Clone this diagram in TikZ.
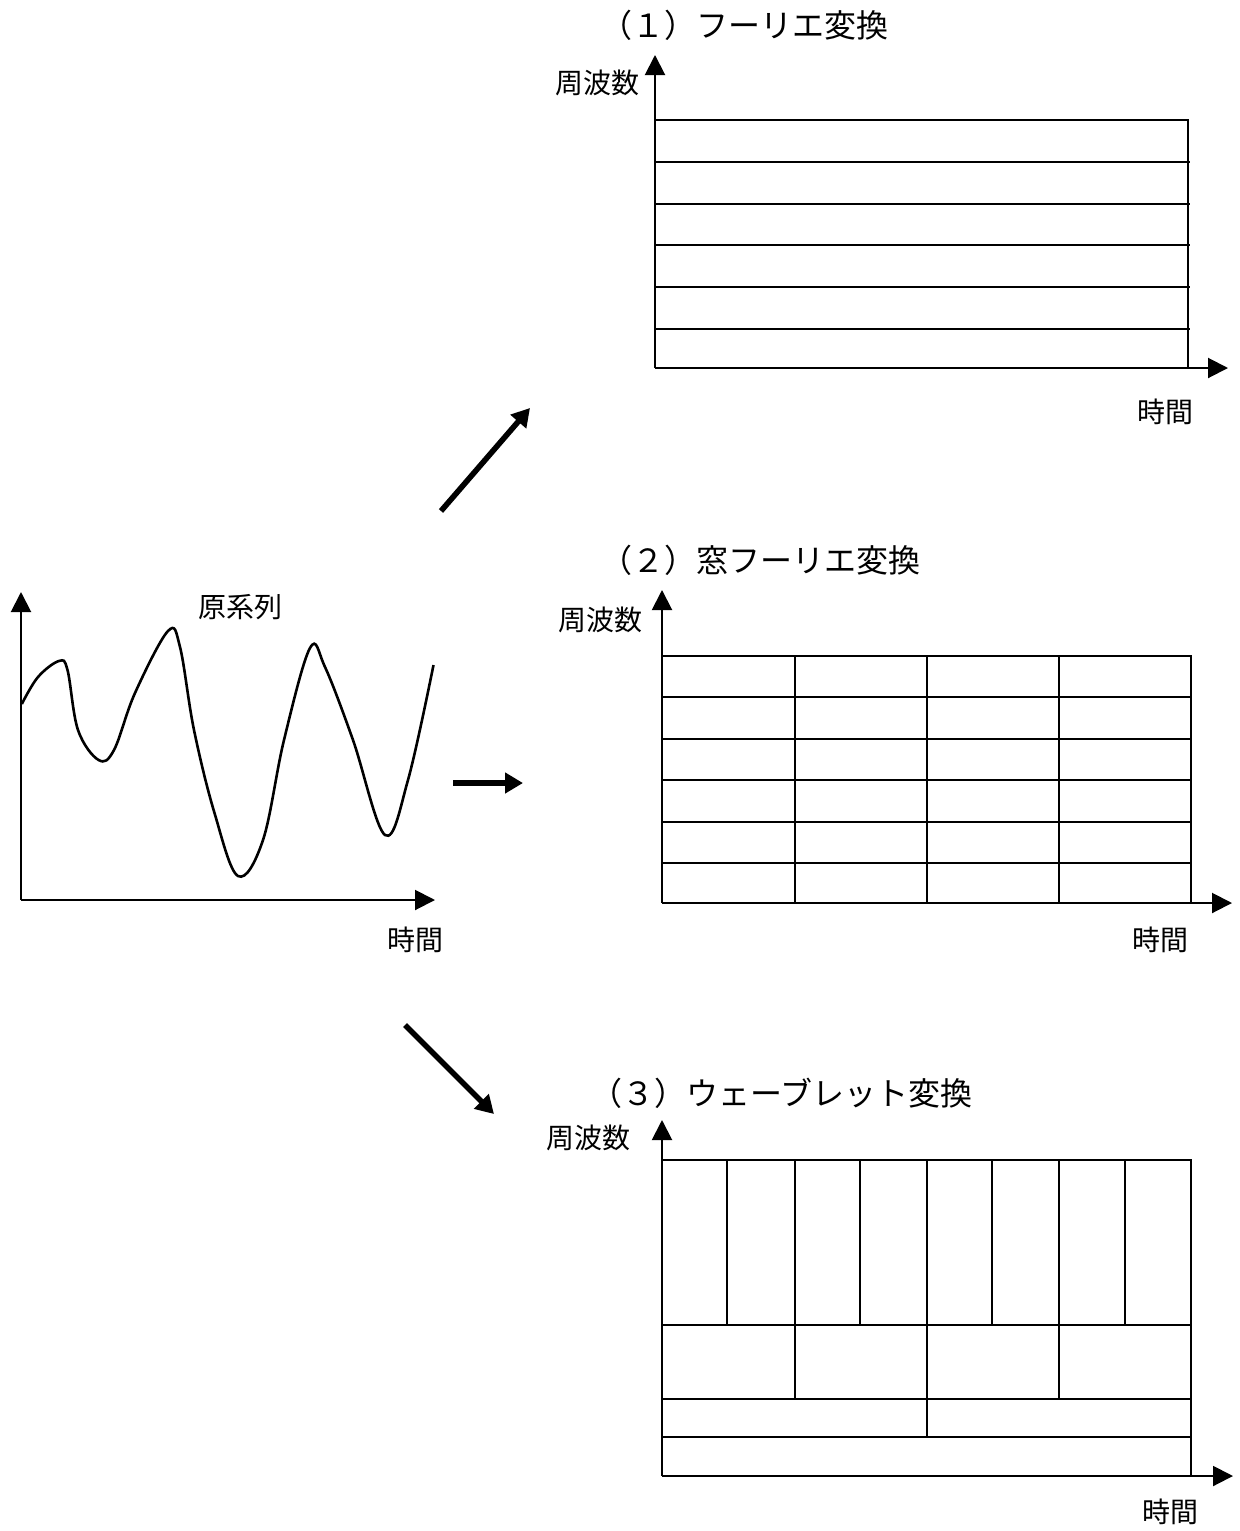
\documentclass[tikz,border=0pt]{standalone}
\usepackage{fontspec}
\setmainfont{Noto Sans CJK JP}
\usetikzlibrary{arrows.meta}
\definecolor{inkblack}{HTML}{000000}

\begin{document}
\begin{tikzpicture}[x=0.5pt, y=-0.5pt,
  axis/.style={inkblack, line width=1pt, -{Triangle[width=10pt,length=10pt]}},
  gridline/.style={inkblack, line width=1pt},
  flow/.style={inkblack, line width=2.8pt, -{Triangle[width=10pt,length=9pt]}},
  axislabel/.style={font=\fontsize{14}{14}\selectfont, inner sep=0pt},
  paneltitle/.style={font=\fontsize{16}{16}\selectfont, inner sep=0pt, anchor=west}]

\useasboundingbox (0,0) rectangle (1239,1531);

% Original series (time domain)
\draw[axis] (21,900) -- (21,592);
\draw[axis] (21,900) -- (435,900);
\node[axislabel] (src) at (240,607) {原系列};
\node[axislabel] (h0) at (415,940) {時間};
\draw[inkblack, line width=1.3pt]
  plot[smooth, tension=0.6] coordinates {
  (21.8,704) (38,677) (59,661) (67.5,670) (78,730) (98.6,760) (114,750)
  (135,693) (168,631) (180,647) (194,730) (214.5,813) (238,876) (263,840)
  (284,740) (310,648) (325,667) (353,740) (385,835) (408,780) (433.5,665)};

% Arrows to the three transforms
\coordinate (a1s) at (441,511); \coordinate (a1e) at (530,408);
\coordinate (a2s) at (453,783); \coordinate (a2e) at (523,783);
\coordinate (a3s) at (405,1025); \coordinate (a3e) at (494,1114);
\draw[flow] (a1s) -- (a1e);
\draw[flow] (a2s) -- (a2e);
\draw[flow] (a3s) -- (a3e);

% (1) Fourier transform
\node[paneltitle] (t1) at (600,25) {（１）フーリエ変換};
\node[axislabel] (f1) at (597,83) {周波数};
\node[axislabel] (h1) at (1165,412) {時間};
\draw[axis] (655,368) -- (655,55);
\draw[axis] (655,368) -- (1228,368);
\draw[gridline] (655,120) -- (1188,120) -- (1188,368);
\foreach \y in {162,204,245,287,329}
  \draw[gridline] (655,\y) -- (1190,\y);

% (2) windowed Fourier transform
\node[paneltitle] (t2) at (600,560) {（２）窓フーリエ変換};
\node[axislabel] (f2) at (600,620) {周波数};
\node[axislabel] (h2) at (1160,940) {時間};
\draw[axis] (662,903) -- (662,590);
\draw[axis] (662,903) -- (1232,903);
\foreach \y in {656,697,739,780,822,863}
  \draw[gridline] (662,\y) -- (1192,\y);
\foreach \x in {795,927,1059,1191}
  \draw[gridline] (\x,656) -- (\x,903);

% (3) wavelet transform
\node[paneltitle] (t3) at (590,1093) {（３）ウェーブレット変換};
\node[axislabel] (f3) at (588,1138) {周波数};
\node[axislabel] (h3) at (1170,1512) {時間};
\draw[axis] (662,1476) -- (662,1120);
\draw[axis] (662,1476) -- (1233,1476);
\foreach \y in {1160,1325,1399,1437}
  \draw[gridline] (662,\y) -- (1192,\y);
\draw[gridline] (1191,1160) -- (1191,1476);
\foreach \x in {727,795,860,927,992,1059,1125}
  \draw[gridline] (\x,1160) -- (\x,1325);
\foreach \x in {795,927,1059}
  \draw[gridline] (\x,1325) -- (\x,1399);
\draw[gridline] (927,1399) -- (927,1437);

\end{tikzpicture}
\end{document}
